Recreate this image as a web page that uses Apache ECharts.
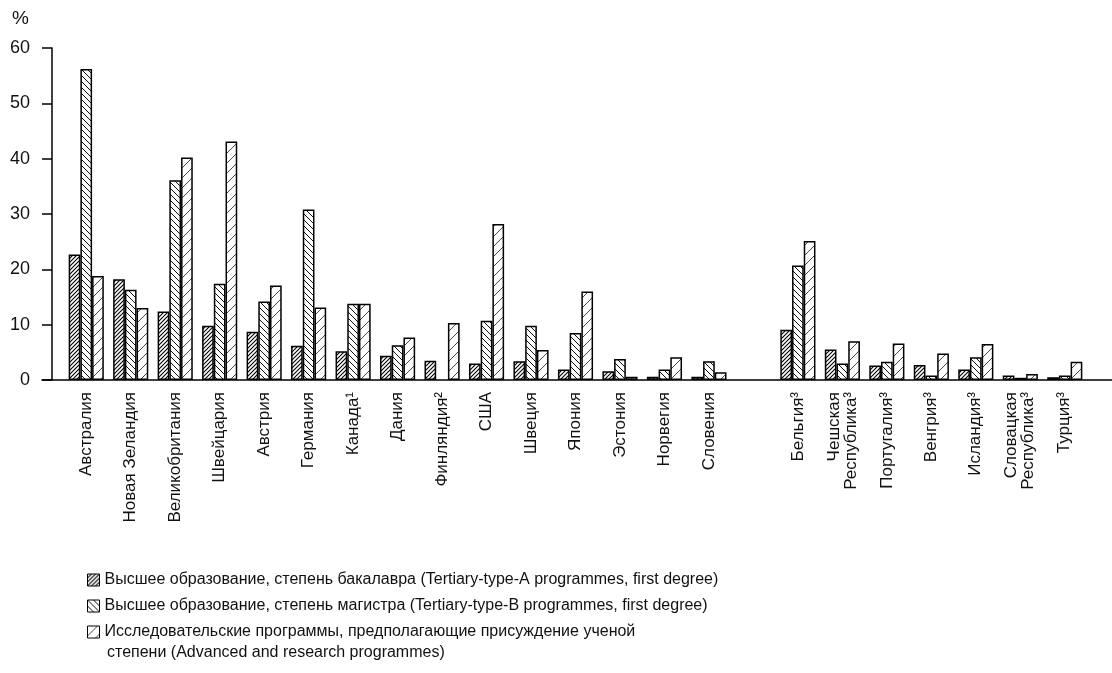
<!DOCTYPE html>
<html><head><meta charset="utf-8">
<script src="https://cdn.jsdelivr.net/npm/echarts@6/dist/echarts.min.js"></script>
<style>html,body{margin:0;padding:0;background:#fff}#c{width:1112px;height:673px}</style>
</head><body><div id="c"></div>
<script>
const categories = ['Австралия','Новая Зеландия','Великобритания','Швейцария','Австрия','Германия','Канада¹','Дания','Финляндия²','США','Швеция','Япония','Эстония','Норвегия','Словения','','Бельгия³','Чешская\nРеспублика³','Португалия³','Венгрия³','Исландия³','Словацкая\nРеспублика³','Турция³'];
const bachelor = [22.7,18.2,12.4,9.8,8.7,6.2,5.2,4.4,3.5,3.0,3.4,1.9,1.6,0.6,0.6,null,9.1,5.5,2.6,2.7,1.9,0.8,0.5];
const master   = [56.2,16.3,36.1,17.4,14.2,30.8,13.8,6.3,null,10.7,9.8,8.5,3.8,1.9,3.4,null,20.7,3.0,3.3,0.8,4.1,0.4,0.8];
const research = [18.8,13.0,40.2,43.1,17.1,13.1,13.8,7.7,10.3,28.2,5.4,16.0,0.6,4.1,1.4,null,25.1,7.0,6.6,4.8,6.5,1.1,3.3];
const seriesNames = [
  'Высшее образование, степень бакалавра (Tertiary-type-A programmes, first degree)',
  'Высшее образование, степень магистра (Tertiary-type-B programmes, first degree)',
  'Исследовательские программы, предполагающие присуждение ученой'
];
const legendSecondLine = 'степени (Advanced and research programmes)';
const yUnit = '%';

function hatch(size, dir, lw, color){
  const c = document.createElement('canvas'); c.width = size; c.height = size;
  const g = c.getContext('2d');
  g.fillStyle = '#fff'; g.fillRect(0,0,size,size);
  g.strokeStyle = color; g.lineWidth = lw; g.beginPath();
  if (dir > 0) {
    g.moveTo(0,size); g.lineTo(size,0);
    g.moveTo(-1,1); g.lineTo(1,-1);
    g.moveTo(size-1,size+1); g.lineTo(size+1,size-1);
  } else {
    g.moveTo(0,0); g.lineTo(size,size);
    g.moveTo(-1,size-1); g.lineTo(1,size+1);
    g.moveTo(size-1,-1); g.lineTo(size+1,1);
  }
  g.stroke();
  return c;
}
const patA = {image: hatch(4, 1, 1.1, '#000'), repeat: 'repeat'};
const patB = {image: hatch(6, -1, 1, '#111'), repeat: 'repeat'};
const patC = {image: hatch(10, 1, 0.9, '#333'), repeat: 'repeat'};

const FONT = 'Liberation Sans, Arial, sans-serif';
const chart = echarts.init(document.getElementById('c'), null, {renderer: 'canvas'});
function bar(name, data, pat){
  return {
    name, type: 'bar', data, xAxisIndex: 0, yAxisIndex: 0,
    barGap: '0%', barCategoryGap: '21%',
    itemStyle: {color: pat, borderColor: '#000', borderWidth: 1.5},
    emphasis: {disabled: true}, animation: false
  };
}
chart.setOption({
  backgroundColor: '#fff',
  animation: false,
  textStyle: {fontFamily: FONT},
  title: [
    {text: yUnit, left: 7, top: 4, textStyle: {fontSize: 19, fontWeight: 'normal', color: '#111', fontFamily: FONT}},
    {text: legendSecondLine, left: 102, top: 640, textStyle: {fontSize: 16, fontWeight: 'normal', color: '#111', fontFamily: FONT}}
  ],
  legend: {
    orient: 'vertical', left: 82, top: 567,
    itemWidth: 12, itemHeight: 12, itemGap: 10, icon: 'rect',
    data: seriesNames,
    itemStyle: {borderColor: '#000', borderWidth: 1},
    textStyle: {fontSize: 16, color: '#111', fontFamily: FONT, lineHeight: 16},
    selectedMode: false
  },
  grid: [
    {left: 64, right: 25, top: 48, bottom: 293, containLabel: false},
    {left: 42, right: 0, top: 48, bottom: 293, containLabel: false}
  ],
  xAxis: [
    {type: 'category', gridIndex: 0, data: categories,
     axisLine: {show: false}, axisTick: {show: false},
     axisLabel: {rotate: 90, interval: 0, margin: 12, fontSize: 17, lineHeight: 17, color: '#111', fontFamily: FONT}},
    {type: 'value', gridIndex: 1, min: 0, max: 1, axisLine: {show: true, lineStyle: {color: '#000', width: 1.5}},
     axisTick: {show: false}, axisLabel: {show: false}, splitLine: {show: false}}
  ],
  yAxis: [
    {type: 'value', gridIndex: 0, min: 0, max: 60, interval: 10, offset: 12,
     axisLine: {show: true, lineStyle: {color: '#000', width: 1.5}},
     axisTick: {show: true, length: 10, lineStyle: {color: '#000', width: 1.5}},
     axisLabel: {margin: 22, fontSize: 18, color: '#111', fontFamily: FONT},
     splitLine: {show: false}},
    {type: 'value', gridIndex: 1, show: false, min: 0, max: 1}
  ],
  series: [
    bar(seriesNames[0], bachelor, patA),
    bar(seriesNames[1], master, patB),
    bar(seriesNames[2], research, patC)
  ]
});
</script></body></html>
